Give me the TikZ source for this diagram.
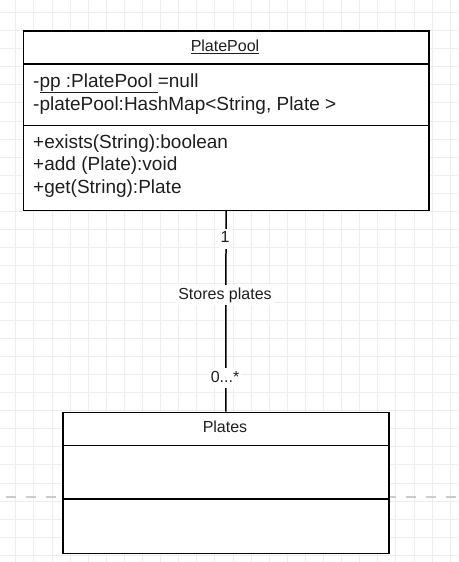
\documentclass[tikz,border=0pt]{standalone}
\usepackage{fontspec}
\setmainfont{Liberation Sans}
\usepackage{tikz}
\usetikzlibrary{positioning}
\tikzset{
  gridline/.style={draw=black!7, line width=0.7pt},
  pagebreak/.style={draw=black!20, line width=2.5pt, dash pattern=on 10pt off 10pt},
  umlbox/.style={draw=black, line width=1.6pt, fill=white, inner sep=0pt},
  umlsep/.style={draw=black, line width=1.6pt},
  assoc/.style={draw=black, line width=1.5pt},
  member/.style={anchor=base west, inner sep=0pt, text=black!88, font=\fontsize{19}{22}\selectfont},
  classname/.style={anchor=base, inner sep=0pt, text=black!88, font=\fontsize{16}{19}\selectfont},
  endlabel/.style={anchor=base, fill=white, inner sep=2pt, text height=12pt, text depth=4pt, text=black!88, font=\fontsize{16}{19}\selectfont},
}
\begin{document}
\begin{tikzpicture}[x=1pt, y=-1pt]
\useasboundingbox (0,0) rectangle (458,562);
\fill[white] (0,0) rectangle (458,562);
\foreach \gx in {0,...,24} \draw[gridline] ({15.7+18.1*\gx},0) -- ({15.7+18.1*\gx},562);
\foreach \gy in {0,...,30} \draw[gridline] (0,{12.3+18.1*\gy}) -- (458,{12.3+18.1*\gy});
\draw[pagebreak] (6,497) -- (458,497);

\node[umlbox, anchor=north west, minimum width=405.5pt, minimum height=179.5pt] (pool) at (22.5,30) {};
\draw[umlsep] (pool.west |- 0,64) -- (pool.east |- 0,64);
\draw[umlsep] (pool.west |- 0,125.5) -- (pool.east |- 0,125.5);
\node[classname] (pooltitle) at (225,51.5) {\underline{PlatePool}};
\node[member] (ppattr) at (33,87.3) {-\underline{pp :PlatePool\ }=null};
\node[member] (mapattr) at (33,110) {-platePool:HashMap<String, Plate >};
\node[member] (existsop) at (33,148.3) {+exists(String):boolean};
\node[member] (addop) at (33,170.7) {+add (Plate):void};
\node[member] (getop) at (33,193) {+get(String):Plate};

\node[umlbox, anchor=north west, minimum width=326pt, minimum height=141pt] (plates) at (62,411.7) {};
\draw[umlsep] (plates.west |- 0,445.3) -- (plates.east |- 0,445.3);
\draw[umlsep] (plates.west |- 0,498.7) -- (plates.east |- 0,498.7);
\node[classname] (platestitle) at (225,432.3) {Plates};

\draw[assoc] (pool.south) -- (plates.north);
\node[endlabel] (poolmult) at (225,242.7) {1};
\node[endlabel] (storeslabel) at (225,299.3) {Stores plates};
\node[endlabel] (platesmult) at (225,382.3) {0...*};
\end{tikzpicture}
\end{document}
